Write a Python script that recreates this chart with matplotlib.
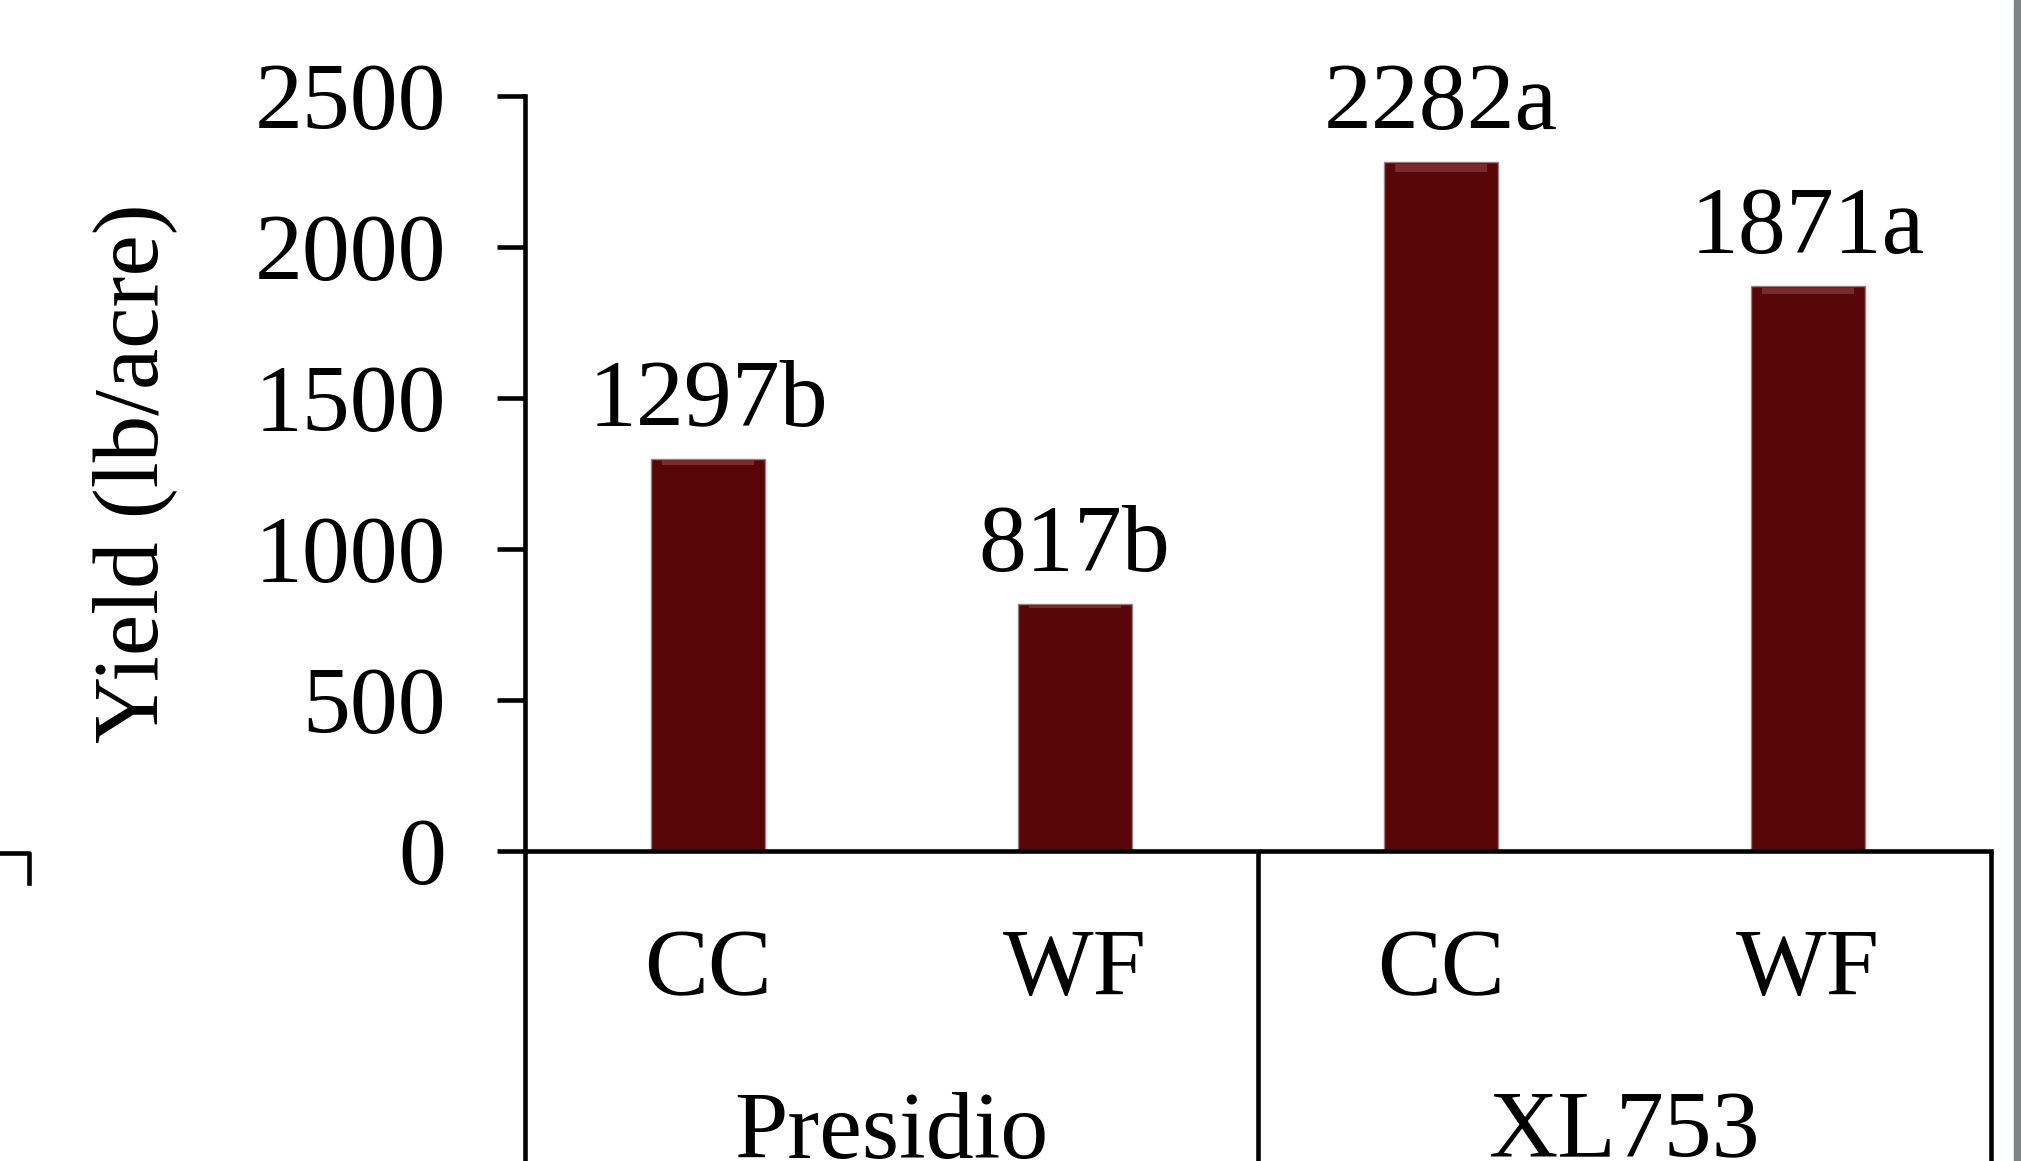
import matplotlib.pyplot as plt
from matplotlib.lines import Line2D
from matplotlib.patches import Rectangle

# data
hybrids = ["Presidio", "XL753"]
systems = ["CC", "WF", "CC", "WF"]
yields = [1297, 817, 2282, 1871]
letters = ["b", "b", "a", "a"]
y_ticks = [0, 500, 1000, 1500, 2000, 2500]

W, H = 2021, 1161
plt.rcParams['font.family'] = ['Liberation Serif', 'DejaVu Serif']
plt.rcParams['font.size'] = 69

fig = plt.figure(figsize=(W / 100, H / 100), dpi=100)
ax = fig.add_axes([525 / W, (H - 851) / H, 1466 / W, 755 / H])

x = list(range(len(yields)))
bars = ax.bar(x, yields, width=0.31, color='#580607', edgecolor='#9a7f7f', linewidth=1.0, zorder=2)
# thin highlight at the top of each bar (bevel look)
ax.bar(x, [v * 0.012 for v in yields], bottom=[v * 0.985 for v in yields], width=0.25,
       color='#7a2a2b', linewidth=0, zorder=3)

for xi, v, l in zip(x, yields, letters):
    ax.annotate(f"{v}{l}", (xi, v), xytext=(0, 24), textcoords='offset points',
                ha='center', va='baseline', fontsize=69)

ax.set_xlim(-0.5, len(yields) - 0.5)
ax.set_ylim(0, 2500)
ax.set_yticks(y_ticks)
ax.set_xticks(x)
ax.set_xticklabels([])

lw = 3.3
for s in ['top', 'right']:
    ax.spines[s].set_visible(False)
ax.spines['left'].set_linewidth(lw)
ax.spines['bottom'].set_linewidth(lw)
ax.tick_params(axis='y', direction='out', length=20, width=lw, pad=37, labelsize=69)
ax.tick_params(axis='x', length=0)

ax.set_ylabel("Yield (lb/acre)", fontsize=67)
ax.yaxis.set_label_coords(-0.237, 0.5)

# category labels under the axis
tr = ax.get_xaxis_transform()
for xi, s in zip(x, systems):
    ax.text(xi, -0.191, s, transform=tr, ha='center', va='baseline', fontsize=69)
for i, h in enumerate(hybrids):
    ax.text(2 * i + 0.5, -0.406, h, transform=tr, ha='center', va='baseline', fontsize=69)

# group separators below the axis
for xv in [-0.5, 1.5, 3.5]:
    ax.plot([xv, xv], [0, -0.45], color='black', lw=lw, transform=tr, clip_on=False,
            solid_capstyle='butt')

# leftover bits at the image edges
fig.add_artist(Line2D([0, 29 / W, 29 / W], [1 - 853 / H, 1 - 853 / H, 1 - 883 / H],
                      color='black', lw=3.3, transform=fig.transFigure))
fig.add_artist(Rectangle((2014 / W, 0), 7 / W, 1, color='#7d8283', transform=fig.transFigure))

fig.savefig("out.png", dpi=100)
